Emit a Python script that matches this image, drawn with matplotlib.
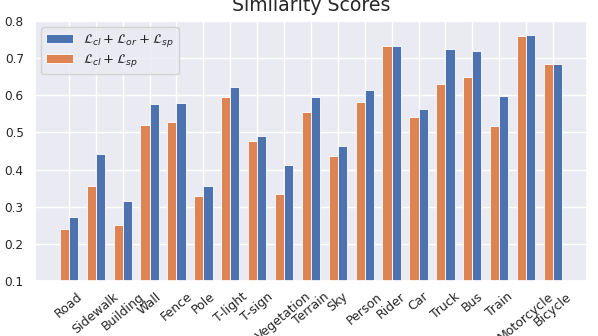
import numpy as np
import matplotlib
matplotlib.use("Agg")
import matplotlib.pyplot as plt
import seaborn as sns

sns.set_theme(style="darkgrid")

categories = ["Road", "Sidewalk", "Building", "Wall", "Fence", "Pole", "T-light",
              "T-sign", "Vegetation", "Terrain", "Sky", "Person", "Rider", "Car",
              "Truck", "Bus", "Train", "Motorcycle", "Bicycle"]
full_scores = [0.273, 0.441, 0.315, 0.576, 0.580, 0.355, 0.622, 0.490, 0.411,
               0.595, 0.462, 0.613, 0.734, 0.564, 0.725, 0.718, 0.598, 0.761, 0.683]
cl_sp_scores = [0.240, 0.355, 0.250, 0.519, 0.528, 0.328, 0.595, 0.478, 0.333,
                0.554, 0.436, 0.583, 0.734, 0.541, 0.629, 0.650, 0.518, 0.760, 0.683]
yticks = [0.1, 0.2, 0.3, 0.4, 0.5, 0.6, 0.7, 0.8]

blue = "#4C72B0"
orange = "#DD8452"

fig = plt.figure(figsize=(5.98, 3.36), dpi=100)
ax = fig.add_axes([0.0585, 0.164, 0.9225, 0.7735])

x = np.arange(len(categories))
w = 0.34
ax.bar(x + w / 2, full_scores, w, color=blue, edgecolor="white", linewidth=0.6,
       label=r"$\mathcal{L}_{cl}+\mathcal{L}_{or}+\mathcal{L}_{sp}$")
ax.bar(x - w / 2, cl_sp_scores, w, color=orange, edgecolor="white", linewidth=0.6,
       label=r"$\mathcal{L}_{cl}+\mathcal{L}_{sp}$")

ax.set_ylim(0.1, 0.8)
ax.set_xlim(-1.26, 19.25)
ax.set_yticks(yticks)
ax.set_yticklabels([f"{v:.1f}" for v in yticks], fontsize=8.7)
ax.set_xticks(x)
ax.set_xticklabels(categories, rotation=40, fontsize=9.0)
ax.tick_params(axis="y", pad=2)
ax.tick_params(axis="x", pad=0.5)
ax.set_title("Similarity Scores", fontsize=13.6, pad=7)
ax.legend(loc="upper left", fontsize=9.5, labelspacing=0.22,
          borderaxespad=0.45, handlelength=2.0)

fig.savefig("out.png", dpi=100)
